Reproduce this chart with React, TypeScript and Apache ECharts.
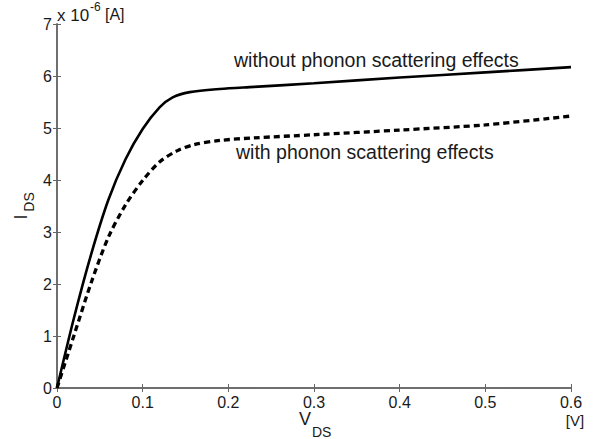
import React, { useEffect, useRef } from "react";
import * as echarts from "echarts";

const xTicks = [0, 0.1, 0.2, 0.3, 0.4, 0.5, 0.6];
const yTicks = [0, 1, 2, 3, 4, 5, 6, 7];

// without phonon scattering (solid)
const vdsSolid = [0, 0.02, 0.04, 0.06, 0.08, 0.1, 0.12, 0.135, 0.155, 0.19, 0.23, 0.3, 0.4, 0.5, 0.6];
const idsSolid = [0, 1.36, 2.58, 3.62, 4.4, 4.98, 5.4, 5.59, 5.69, 5.75, 5.79, 5.86, 5.97, 6.07, 6.17];

// with phonon scattering (dashed)
const vdsDash = [0, 0.02, 0.04, 0.06, 0.08, 0.1, 0.12, 0.14, 0.16, 0.19, 0.23, 0.3, 0.4, 0.5, 0.6];
const idsDash = [0, 1.02, 2.03, 2.9, 3.52, 3.99, 4.35, 4.56, 4.68, 4.76, 4.81, 4.87, 4.96, 5.06, 5.23];

const labelSolid = "without phonon scattering effects";
const labelDash = "with phonon scattering effects";

const FONT = "'Liberation Sans', Arial, Helvetica, sans-serif";
const AXIS = "#666";
const TXT = "#1a1a1a";

export default function App() {
  const ref = useRef<HTMLDivElement>(null);
  useEffect(() => {
    document.body.style.margin = "0";
    const chart = echarts.init(ref.current!, undefined, { renderer: "svg" });
    const axisCommon = {
      type: "value" as const,
      axisLine: { show: true, lineStyle: { color: AXIS, width: 1.5 } },
      axisTick: { show: true, inside: true, length: 4, lineStyle: { color: AXIS, width: 1 } },
      splitLine: { show: false },
    };
    const txt = (text: string, x: number, y: number, fontSize: number, align = "left", rotation = 0) => ({
      type: "text",
      x,
      y,
      rotation,
      style: {
        text,
        fontSize,
        fontFamily: FONT,
        fill: TXT,
        align,
        verticalAlign: "middle",
        textAlign: align,
        textVerticalAlign: "middle",
      },
    });
    chart.setOption({
      animation: false,
      backgroundColor: "#fff",
      grid: { left: 57, right: 28, top: 24, bottom: 51, containLabel: false },
      xAxis: [
        {
          ...axisCommon,
          position: "bottom",
          min: 0,
          max: 0.6,
          interval: 0.1,
          axisLabel: {
            show: true,
            fontSize: 16,
            fontFamily: FONT,
            color: TXT,
            margin: 6,
            formatter: (v: number) => {
              const i = xTicks.findIndex((t) => Math.abs(t - v) < 1e-9);
              return i >= 0 ? String(xTicks[i]) : "";
            },
          },
        },
        {
          ...axisCommon,
          position: "top",
          min: 0,
          max: 0.6,
          interval: 0.1,
          axisLabel: { show: false },
        },
      ],
      yAxis: [
        {
          ...axisCommon,
          position: "left",
          min: 0,
          max: 7,
          interval: 1,
          axisLabel: {
            show: true,
            fontSize: 16,
            fontFamily: FONT,
            color: TXT,
            margin: 5,
            formatter: (v: number) => {
              const i = yTicks.findIndex((t) => Math.abs(t - v) < 1e-9);
              return i >= 0 ? String(yTicks[i]) : "";
            },
          },
        },
        {
          ...axisCommon,
          position: "right",
          min: 0,
          max: 7,
          interval: 1,
          axisLabel: { show: false },
        },
      ],
      series: [
        {
          type: "line",
          name: labelSolid,
          data: vdsSolid.map((v, i) => [v, idsSolid[i]]),
          showSymbol: false,
          smooth: 0.3,
          lineStyle: { color: "#000", width: 2.6, type: "solid" },
          z: 3,
        },
        {
          type: "line",
          name: labelDash,
          data: vdsDash.map((v, i) => [v, idsDash[i]]),
          showSymbol: false,
          smooth: 0.3,
          lineStyle: { color: "#000", width: 3.3, type: [6, 4] },
          z: 3,
        },
      ],
      graphic: [
        txt(labelSolid, 234, 60, 19.5),
        txt(labelDash, 236, 151.5, 19.5),
        txt("x 10", 57, 15, 17),
        txt("-6", 90, 7, 12),
        txt("[A]", 105, 14, 16),
        txt("[V]", 575, 420, 15, "center"),
        txt("V", 305, 418.5, 18, "center"),
        txt("DS", 312, 432, 14),
        txt("I", 20.5, 217, 18, "center", Math.PI / 2),
        txt("DS", 29, 202, 14, "center", Math.PI / 2),
      ],
    });
    return () => chart.dispose();
  }, []);
  return <div ref={ref} style={{ width: 599, height: 439 }} />;
}
